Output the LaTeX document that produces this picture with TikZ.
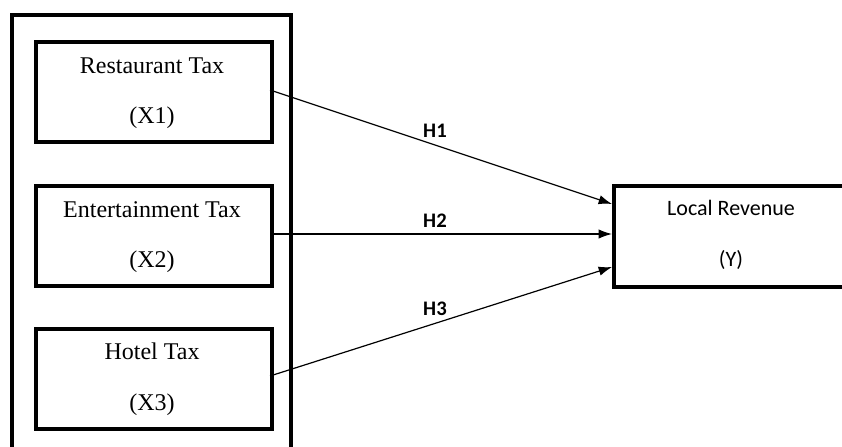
\documentclass[tikz,border=0pt]{standalone}
\usepackage{fontspec}
\setmainfont{Liberation Serif}
\newfontfamily\calibri{Carlito}
\usetikzlibrary{arrows.meta}
\begin{document}
\begin{tikzpicture}[x=0.75pt,y=-0.75pt,
  thickbox/.style={draw=black,line width=3pt},
  vartext/.style={font=\fontsize{18}{20}\selectfont,inner sep=0pt},
  ytext/.style={font=\calibri\fontsize{16.5}{18}\selectfont,inner sep=0pt},
  hyp/.style={font=\calibri\bfseries\fontsize{15.5}{17}\selectfont,inner sep=0pt},
  link/.style={line width=0.9pt,-{Latex[length=10pt,width=7pt]}}]
\useasboundingbox (0,0) rectangle (842,446);
\begin{scope}
\clip (0,0) rectangle (842,446);
% group frame around the three independent variables
\draw[thickbox] (12,15) rectangle (291,470);
% variable boxes
\node[thickbox,minimum width=236*0.75pt,minimum height=100*0.75pt,anchor=north west] (x1) at (34,40) {};
\node[thickbox,minimum width=236*0.75pt,minimum height=100*0.75pt,anchor=north west] (x2) at (34,184) {};
\node[thickbox,minimum width=236*0.75pt,minimum height=100*0.75pt,anchor=north west] (x3) at (34,327) {};
\node[thickbox,minimum width=260*0.75pt,minimum height=101*0.75pt,anchor=north west] (y) at (612,184) {};
\end{scope}
% box texts
\node[vartext] (t1a) at (152,66) {Restaurant Tax};
\node[vartext] (t1b) at (152,118) {(X1)};
\node[vartext] (t2a) at (152,210) {Entertainment Tax};
\node[vartext] (t2b) at (152,262) {(X2)};
\node[vartext] (t3a) at (152,351) {Hotel Tax};
\node[vartext] (t3b) at (152,405) {(X3)};
\node[ytext] (ya) at (731,208) {Local Revenue};
\node[ytext] (yb) at (731,260) {(Y)};
% hypothesis paths
\coordinate (s1) at (270,90);
\coordinate (s2) at (270,234);
\coordinate (s3) at (270,376);
\coordinate (e1) at (612,204);
\coordinate (e2) at (612,234);
\coordinate (e3) at (612,267);
\draw[link] (s1) -- (e1);
\draw[link] (s2) -- (e2);
\draw[link] (s3) -- (e3);
\node[hyp] (h1) at (435,131) {H1};
\node[hyp] (h2) at (435,221) {H2};
\node[hyp] (h3) at (435,309) {H3};
\end{tikzpicture}
\end{document}
